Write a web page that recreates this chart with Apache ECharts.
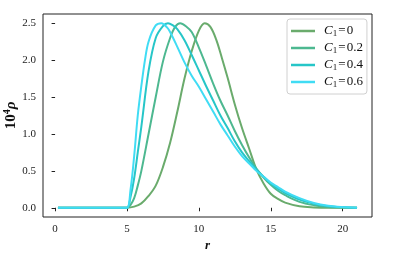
<!DOCTYPE html>
<html><head><meta charset="utf-8">
<script src="https://cdn.jsdelivr.net/npm/echarts@6/dist/echarts.min.js"></script>
<style>html,body{margin:0;padding:0;background:#fff}#c{width:416px;height:257px}</style>
</head><body><div id="c"></div>
<script>
const seriesNames = ['C1=0', 'C1=0.2', 'C1=0.4', 'C1=0.6'];
const legendValues = ['0', '0.2', '0.4', '0.6'];
const colors = ['#6aab6c', '#4db890', '#26c6c8', '#40dcf4'];
const xTicks = [0, 5, 10, 15, 20];
const yTicks = [0, 0.5, 1.0, 1.5, 2.0, 2.5];

const r0 = [0.2, 4.5, 5, 5.5, 6, 6.5, 7, 7.5, 8, 8.5, 9, 9.5, 10, 10.4, 10.8, 11.2, 11.6, 12, 12.5, 13, 13.5, 14, 14.5, 15, 15.5, 16, 17, 18, 19, 21];
const y0 = [0, 0, 0, 0.015, 0.06, 0.16, 0.3, 0.55, 0.88, 1.3, 1.75, 2.12, 2.4, 2.5, 2.45, 2.28, 2.03, 1.76, 1.4, 1.08, 0.8, 0.52, 0.33, 0.19, 0.12, 0.07, 0.02, 0.005, 0, 0];

const r1 = [0.2, 4.5, 5, 5.25, 5.5, 5.75, 6, 6.5, 7, 7.5, 8, 8.35, 8.7, 9.1, 9.5, 10, 10.5, 11, 11.5, 12, 12.5, 13, 13.5, 14, 14.5, 15, 15.5, 16, 17, 18, 19, 20, 21];
const y1 = [0, 0, 0, 0.04, 0.13, 0.3, 0.5, 1.0, 1.5, 1.98, 2.3, 2.45, 2.5, 2.46, 2.38, 2.17, 1.93, 1.68, 1.45, 1.25, 1.04, 0.85, 0.68, 0.53, 0.41, 0.31, 0.23, 0.17, 0.08, 0.035, 0.012, 0.003, 0];

const r2 = [0.2, 4.5, 5, 5.25, 5.5, 5.75, 6, 6.5, 7, 7.5, 7.85, 8.2, 8.5, 9, 9.5, 10, 10.5, 11, 11.5, 12, 12.5, 13, 13.5, 14, 14.5, 15, 15.5, 16, 17, 18, 19, 20, 21];
const y2 = [0, 0, 0, 0.15, 0.4, 0.75, 1.1, 1.85, 2.3, 2.46, 2.5, 2.47, 2.42, 2.27, 2.07, 1.86, 1.65, 1.45, 1.25, 1.08, 0.9, 0.75, 0.63, 0.52, 0.42, 0.33, 0.26, 0.2, 0.11, 0.055, 0.02, 0.006, 0];

const r3 = [0.2, 4.5, 5, 5.25, 5.5, 5.75, 6, 6.25, 6.5, 7, 7.4, 7.8, 8, 8.5, 9, 9.5, 10, 10.5, 11, 11.5, 12, 12.5, 13, 13.5, 14, 14.5, 15, 15.5, 16, 17, 18, 19, 20, 21];
const y3 = [0, 0, 0, 0.25, 0.7, 1.25, 1.65, 2.0, 2.25, 2.47, 2.5, 2.44, 2.38, 2.18, 1.97, 1.79, 1.64, 1.47, 1.3, 1.13, 0.98, 0.83, 0.7, 0.6, 0.5, 0.42, 0.34, 0.28, 0.22, 0.13, 0.065, 0.028, 0.01, 0];

const rs = [r0, r1, r2, r3];
const ys = [y0, y1, y2, y3];
const FONT = '"Liberation Serif", "DejaVu Serif", serif';

const chart = echarts.init(document.getElementById('c'), null, {renderer: 'canvas'});
chart.setOption({
  animation: false,
  backgroundColor: '#fff',
  grid: {left: 43, right: 44, top: 14, bottom: 40, show: true, borderColor: '#222', borderWidth: 1, containLabel: false, outerBoundsMode: 'none'},
  legend: {
    orient: 'vertical', left: 287, top: 19,
    data: seriesNames,
    icon: 'rect', itemWidth: 24, itemHeight: 2.5, itemGap: 3,
    padding: [5, 4, 5, 4],
    borderColor: '#d0d0d0', borderWidth: 1, borderRadius: 3,
    formatter: function (name) {
      const i = seriesNames.indexOf(name);
      return '{i|C}{s|1}{n|\u200a=\u200a' + legendValues[i] + '}';
    },
    textStyle: {
      fontFamily: FONT, fontSize: 13, color: '#111', lineHeight: 14, padding: [0, 0, 0, 4],
      rich: {
        i: {fontFamily: FONT, fontSize: 13, fontStyle: 'italic', color: '#111', lineHeight: 14},
        s: {fontFamily: FONT, fontSize: 9, color: '#111', verticalAlign: 'bottom', lineHeight: 14, padding: [4, 0, 0, 0]},
        n: {fontFamily: FONT, fontSize: 13, color: '#111', lineHeight: 14}
      }
    }
  },
  xAxis: {
    type: 'value', min: -0.84, max: 22.04,
    name: 'r', nameLocation: 'middle', nameGap: 22, nameMoveOverlap: false,
    nameTextStyle: {fontFamily: FONT, fontSize: 13, fontStyle: 'italic', fontWeight: 'bold', color: '#111'},
    axisLine: {show: false},
    axisTick: {show: true, inside: false, length: 3.5, lineStyle: {color: '#222', width: 1}, customValues: xTicks},
    axisLabel: {fontFamily: FONT, fontSize: 11, color: '#222', margin: 7, customValues: xTicks},
    splitLine: {show: false}
  },
  yAxis: {
    type: 'value', min: -0.125, max: 2.625,
    name: '{n|10}{sup|4}{i|ρ}', nameLocation: 'middle', nameGap: 23, nameRotate: 90, nameMoveOverlap: false,
    nameTextStyle: {
      fontFamily: FONT, fontSize: 15, color: '#111',
      rich: {
        n: {fontFamily: FONT, fontSize: 15, fontWeight: 'bold', color: '#111', lineHeight: 18},
        sup: {fontFamily: FONT, fontSize: 10, fontWeight: 'bold', color: '#111', verticalAlign: 'top', lineHeight: 18},
        i: {fontFamily: FONT, fontSize: 15, fontStyle: 'italic', fontWeight: 'bold', color: '#111', lineHeight: 18}
      }
    },
    axisLine: {show: false},
    axisTick: {show: true, inside: false, length: 3.5, lineStyle: {color: '#222', width: 1}, customValues: yTicks},
    axisLabel: {fontFamily: FONT, fontSize: 11, color: '#222', margin: 7, customValues: yTicks,
      formatter: function (v) { return v.toFixed(1); }},
    splitLine: {show: false}
  },
  series: seriesNames.map(function (n, k) {
    return {
      name: n, type: 'line', showSymbol: false, smooth: 0.35,
      data: rs[k].map(function (r, j) { return [r, ys[k][j]]; }),
      lineStyle: {color: colors[k], width: 2},
      itemStyle: {color: colors[k]},
      z: 2 + k
    };
  })
});
</script></body></html>
